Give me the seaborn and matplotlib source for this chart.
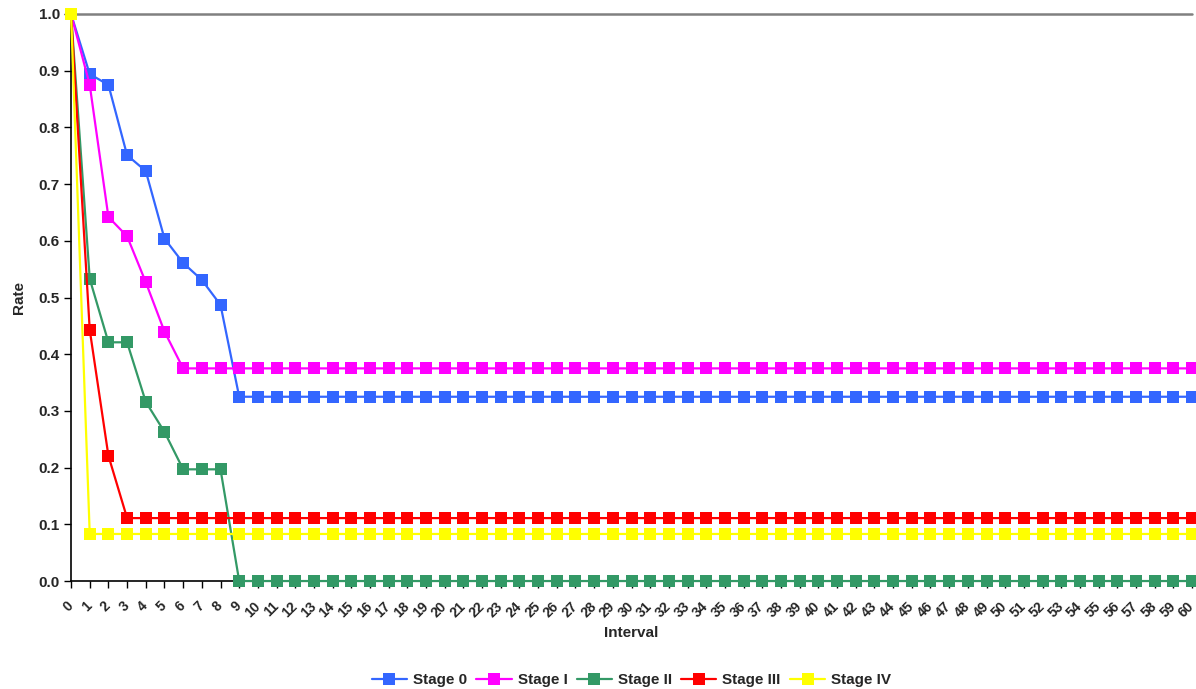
import matplotlib
matplotlib.use("Agg")
import matplotlib.pyplot as plt
import matplotlib.transforms as mtransforms
import seaborn as sns
import pandas as pd

# Survival rate by interval for each stage
intervals = list(range(61))
stage_0 = [1.0, 0.894, 0.875, 0.751, 0.723, 0.604, 0.561, 0.531, 0.487] + [0.325] * 52
stage_i = [1.0, 0.875, 0.642, 0.608, 0.527, 0.440] + [0.375] * 55
stage_ii = [1.0, 0.533, 0.421, 0.421, 0.316, 0.263, 0.197, 0.197, 0.197] + [0.0] * 52
stage_iii = [1.0, 0.443, 0.221] + [0.111] * 58
stage_iv = [1.0] + [0.083] * 60

series_names = ["Stage 0", "Stage I", "Stage II", "Stage III", "Stage IV"]
series_values = [stage_0, stage_i, stage_ii, stage_iii, stage_iv]
series_colors = ["#3366FF", "#FF00FF", "#339966", "#FF0000", "#FFFF00"]
y_ticks = [0.0, 0.1, 0.2, 0.3, 0.4, 0.5, 0.6, 0.7, 0.8, 0.9, 1.0]

df = pd.concat(
    [pd.DataFrame({"Interval": intervals, "Rate": vals, "Stage": name})
     for name, vals in zip(series_names, series_values)],
    ignore_index=True,
)

sns.set_style("ticks")
plt.rcParams["font.family"] = ["Liberation Sans", "DejaVu Sans"]
plt.rcParams["font.weight"] = "bold"

fig = plt.figure(figsize=(11.96, 6.89), dpi=100)
ax = fig.add_axes([0.0594, 0.1567, 0.9373, 0.823])

ax.axhline(1.0, color="#808080", lw=1.8, zorder=1)

sns.lineplot(
    data=df, x="Interval", y="Rate", hue="Stage", hue_order=series_names,
    palette=series_colors, marker="s", markersize=8.2, markeredgewidth=0,
    linewidth=1.6, ax=ax, zorder=3, legend=True,
)
for line in ax.get_lines():
    line.set_clip_on(False)

ax.set_xlim(0, 60)
ax.set_ylim(0, 1.0)
ax.set_yticks(y_ticks)
ax.set_yticklabels([f"{v:.1f}" for v in y_ticks], fontsize=11, fontweight="bold")
ax.set_xticks(intervals)
ax.set_xticklabels([str(i) for i in intervals], rotation=45, ha="right",
                   rotation_mode="anchor", fontsize=10, fontweight="bold")
ax.tick_params(axis="both", direction="out", length=5, width=1, color="black", pad=3)
ax.tick_params(axis="x", pad=8)

# nudge the slanted interval labels so they sit just left of their ticks
shift = mtransforms.ScaledTranslation(-5 / 100, 0, fig.dpi_scale_trans)
for lbl in ax.get_xticklabels():
    lbl.set_transform(lbl.get_transform() + shift)

for side in ["top", "right"]:
    ax.spines[side].set_visible(False)
for side in ["left", "bottom"]:
    ax.spines[side].set_color("black")
    ax.spines[side].set_linewidth(1.2)

ax.set_xlabel("Interval", fontsize=11, fontweight="bold", labelpad=4)
ax.set_ylabel("Rate", fontsize=11, fontweight="bold", labelpad=9)

handles, labels = ax.get_legend_handles_labels()
ax.legend(handles, labels, loc="upper center", bbox_to_anchor=(0.5, -0.138),
          ncol=5, frameon=False, handlelength=2.3,
          columnspacing=0.6, handletextpad=0.4,
          prop={"weight": "bold", "size": 11})

fig.savefig("out.png", dpi=100)
